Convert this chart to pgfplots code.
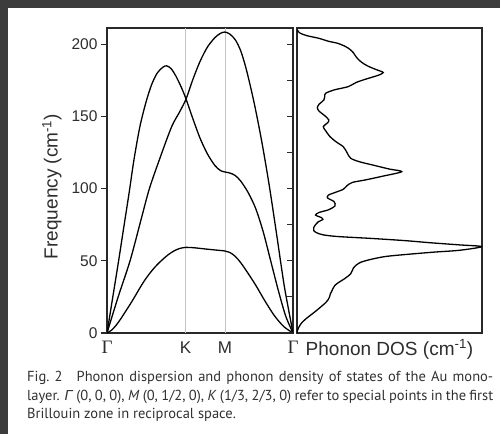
\documentclass[border=0pt]{standalone}
\usepackage{fontspec}
\setmainfont{Liberation Sans}
\newfontfamily\capfont{PT Sans}
\newfontfamily\libsans{Liberation Sans}
\newfontfamily\timesf{Liberation Serif}
\usepackage{pgfplots}
\pgfplotsset{compat=1.18}
\definecolor{bgdark}{RGB}{60,60,60}
\definecolor{txt}{RGB}{45,45,45}
\definecolor{capt}{RGB}{50,50,50}
\definecolor{vline}{RGB}{192,192,226}
\definecolor{frame}{RGB}{40,40,40}

\begin{document}
\begin{tikzpicture}
\useasboundingbox (0,0) rectangle (500pt,434pt);
\fill[bgdark] (0,0) rectangle (500pt,434pt);
\fill[white] (8pt,0) rectangle (500pt,426pt);

% dispersion panel
\begin{axis}[at={(107pt,101pt)}, anchor=south west, scale only axis,
  width=186pt, height=305pt,
  xmin=0, xmax=1, ymin=0, ymax=211.2,
  axis line style={frame, line width=1.5pt},
  ytick={0,50,...,200}, ytick pos=left, tick align=outside,
  major tick length=6pt,
  ytick style={frame, line width=1.2pt},
  yticklabel style={font=\fontsize{15.5}{16}\selectfont, text=txt},
  /pgf/number format/assume math mode=true,
  xtick={0,0.4227,0.634,1},
  xticklabels={{\timesf\fontsize{19}{19}\selectfont Γ},{\fontsize{17}{17}\selectfont K},{\fontsize{17}{17}\selectfont M},{\timesf\fontsize{19}{19}\selectfont Γ}},
  xtick style={draw=none},
  xticklabel style={text=txt, anchor=base, yshift=-14pt},
]
\addplot[vline, line width=0.8pt] coordinates {(0.4227,0) (0.4227,211.2)};
\addplot[vline, line width=0.8pt] coordinates {(0.634,0) (0.634,211.2)};
% branch A
\addplot[black, line width=1.3pt, smooth] coordinates {
(0,0) (0.03,24) (0.06,48) (0.09,73) (0.12,98) (0.145,120) (0.177,143) (0.21,160)
(0.24,172) (0.27,180) (0.30,184) (0.321,185) (0.345,183) (0.37,178) (0.40,170)
(0.425,162) (0.46,149) (0.50,135) (0.54,124) (0.58,116) (0.61,112.5) (0.634,111.5)
(0.66,110.8) (0.69,109) (0.72,105) (0.76,97) (0.80,86) (0.84,70) (0.88,50)
(0.92,30) (0.96,12) (1,0)};
% branch B
\addplot[black, line width=1.3pt, smooth] coordinates {
(0,0) (0.06,25) (0.124,50) (0.18,77) (0.228,100) (0.29,123) (0.348,143) (0.39,153)
(0.425,162) (0.46,175) (0.50,188) (0.54,198) (0.58,204.5) (0.61,207.5) (0.634,208.4)
(0.66,207) (0.69,203) (0.72,195) (0.75,182) (0.79,160) (0.83,134) (0.87,104)
(0.91,70) (0.95,35) (0.975,17) (1,0)};
% branch C
\addplot[black, line width=1.3pt, smooth] coordinates {
(0,0) (0.025,2) (0.05,5.5) (0.075,10) (0.1,15) (0.125,20) (0.15,25.3) (0.175,30.8)
(0.2,36) (0.225,40.5) (0.25,44.5) (0.275,48) (0.3,51) (0.33,54.3) (0.36,56.8)
(0.39,58.5) (0.425,59.3) (0.47,59) (0.52,58.3) (0.58,57.5) (0.634,56.8)
(0.66,55.8) (0.69,53) (0.72,48.5) (0.76,41) (0.80,33) (0.85,22) (0.90,12) (0.95,4.5) (1,0)};
\end{axis}

% inner ticks on right spine of dispersion panel
\begin{axis}[at={(107pt,101pt)}, anchor=south west, scale only axis,
  width=186pt, height=305pt,
  xmin=0, xmax=1, ymin=0, ymax=211.2,
  axis line style={draw=none},
  xtick=\empty, ytick={0,25,...,200}, ytick pos=right, tick align=inside,
  yticklabels={}, major tick length=6pt,
  ytick style={frame, line width=1.2pt},
]
\addplot[draw=none] coordinates {(0,0)};
\end{axis}

% DOS panel
\begin{axis}[at={(297pt,101pt)}, anchor=south west, scale only axis,
  width=185pt, height=305pt,
  xmin=0, xmax=1, ymin=0, ymax=211.2,
  axis line style={frame, line width=1.5pt},
  ticks=none,
]
\addplot[black, line width=1.3pt, smooth] coordinates {
(0,0) (0.003,2) (0.01,4) (0.025,7) (0.05,10) (0.08,13) (0.1,15) (0.128,18) (0.155,21)
(0.168,23) (0.176,25) (0.18,27) (0.188,29) (0.195,31) (0.205,33) (0.225,35) (0.25,37)
(0.272,39) (0.29,41) (0.298,43) (0.305,45) (0.32,47) (0.345,49) (0.4,51) (0.48,53)
(0.6,54.5) (0.74,56) (0.88,57.3) (0.998,59.8) (0.88,61) (0.72,62.5) (0.58,64) (0.4,65.5)
(0.22,66.8) (0.14,68) (0.105,69.5) (0.09,71) (0.09,73) (0.1,75) (0.115,77) (0.14,78.6)
(0.13,80) (0.1,81.7) (0.12,83.5) (0.17,85.3) (0.205,88) (0.2,91) (0.165,93.5) (0.17,95.5)
(0.21,97.5) (0.25,99.5) (0.27,102) (0.3,104.3) (0.37,106) (0.46,108.5) (0.566,111.7)
(0.5,113.5) (0.41,116.3) (0.34,118.5) (0.29,121) (0.27,125) (0.25,129) (0.21,132.5)
(0.178,136) (0.155,140) (0.142,142.9) (0.165,145.5) (0.172,147.5) (0.15,150.5) (0.12,153.5)
(0.11,156) (0.12,158.5) (0.145,161.3) (0.15,164) (0.155,166) (0.2,168.3) (0.277,170.6)
(0.32,173.5) (0.377,176) (0.44,178.5) (0.466,180.4) (0.43,182.3) (0.39,184.4) (0.36,186.5)
(0.335,189) (0.318,191.5) (0.305,194) (0.285,196.5) (0.26,198.5) (0.22,200.6) (0.17,202)
(0.12,204) (0.05,206) (0.012,208) (0.002,210)};
\end{axis}

% labels
\node[rotate=90, font=\fontsize{19}{19}\selectfont, text=txt, anchor=center] at (52pt,247.5pt) {Frequency (cm\textsuperscript{-1})};
\node[font=\fontsize{19}{19}\selectfont, text=txt, anchor=base] at (389.5pt,79pt) {Phonon DOS (cm\textsuperscript{-1})};

% caption
\begin{scope}[every node/.style={anchor=base west, inner sep=0pt, text=capt, font=\capfont\fontsize{14.5}{18}\selectfont}]
\node at (27pt,52.3pt) {\makebox[466pt][s]{Fig.~2\hspace{14pt}Phonon dispersion and phonon density of states of the Au mono-}};
\node at (27pt,34pt) {\makebox[466pt][s]{layer. {\libsans\itshape Γ} (0, 0, 0), \textit{M} (0, 1/2, 0), \textit{K} (1/3, 2/3, 0) refer to special points in the first}};
\node at (27pt,15.5pt) {Brillouin zone in reciprocal space.};
\end{scope}
\end{tikzpicture}
\end{document}
